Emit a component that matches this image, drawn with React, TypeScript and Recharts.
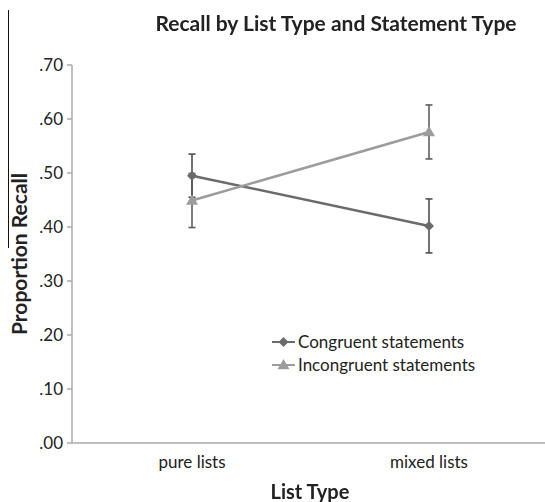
import React from "react";
import { ErrorBar, Line, LineChart, XAxis, YAxis } from "recharts";

const LIST_TYPES = ["pure lists", "mixed lists"];
const CONGRUENT = [0.495, 0.402];
const CONGRUENT_ERR = [0.04, 0.05];
const INCONGRUENT = [0.449, 0.576];
const INCONGRUENT_ERR = [0.05, 0.05];
const Y_TICKS = [0, 0.1, 0.2, 0.3, 0.4, 0.5, 0.6, 0.7];

const data = LIST_TYPES.map((name, i) => ({
  name,
  congruent: CONGRUENT[i],
  congruentErr: CONGRUENT_ERR[i],
  incongruent: INCONGRUENT[i],
  incongruentErr: INCONGRUENT_ERR[i],
}));

const FONT = "Lato, 'Open Sans', sans-serif";
const CONG_COLOR = "#6b6b6b";
const INCONG_COLOR = "#9c9c9c";

const fmt = (v: number) => v.toFixed(2).replace(/^0/, "");

function Diamond(props: any) {
  const { cx, cy, fill } = props;
  if (cx == null || cy == null) return null;
  const r = 5;
  return (
    <polygon
      points={`${cx},${cy - r} ${cx + r},${cy} ${cx},${cy + r} ${cx - r},${cy}`}
      fill={fill}
    />
  );
}

function Triangle(props: any) {
  const { cx, cy, fill } = props;
  if (cx == null || cy == null) return null;
  const r = 6;
  return (
    <polygon
      points={`${cx},${cy - r} ${cx + r},${cy + r * 0.7} ${cx - r},${cy + r * 0.7}`}
      fill={fill}
    />
  );
}

function LegendBox() {
  const rows = [
    { label: "Congruent statements", color: CONG_COLOR, Mark: Diamond },
    { label: "Incongruent statements", color: INCONG_COLOR, Mark: Triangle },
  ];
  return (
    <div style={{ fontFamily: FONT, fontSize: 17, color: "#222" }}>
      {rows.map(({ label, color, Mark }) => (
        <div key={label} style={{ display: "flex", alignItems: "center", height: 23 }}>
          <svg width={26} height={14}>
            <line x1={0} y1={7} x2={23} y2={7} stroke={color} strokeWidth={2} />
            <Mark cx={11.5} cy={7} fill={color} />
          </svg>
          <span>{label}</span>
        </div>
      ))}
    </div>
  );
}

export default function App() {
  return (
    <div
      style={{
        position: "fixed",
        left: 0,
        top: 0,
        width: 545,
        height: 502,
        background: "#fff",
        fontFamily: FONT,
      }}
    >
      <LineChart
        width={545}
        height={502}
        data={data}
        margin={{ top: 65, right: 0, bottom: 0, left: 0 }}
      >
        <XAxis
          dataKey="name"
          height={59}
          padding={{ left: 120, right: 116 }}
          stroke="#aaa"
          strokeWidth={1.5}
          tickLine={false}
          tick={{ fill: "#222", fontSize: 17, fontFamily: FONT }}
          tickMargin={7}
        />
        <YAxis
          width={72}
          domain={[0, 0.7]}
          ticks={Y_TICKS}
          tickFormatter={fmt}
          stroke="#aaa"
          strokeWidth={1.5}
          tickSize={5}
          tick={{ fill: "#222", fontSize: 17, fontFamily: FONT }}
          tickMargin={4}
        />
        <Line
          dataKey="congruent"
          stroke={CONG_COLOR}
          strokeWidth={2.5}
          dot={<Diamond fill={CONG_COLOR} />}
          activeDot={false}
          isAnimationActive={false}
        >
          <ErrorBar dataKey="congruentErr" width={3.5} stroke="#444" strokeWidth={1.5} direction="y" />
        </Line>
        <Line
          dataKey="incongruent"
          stroke={INCONG_COLOR}
          strokeWidth={2.5}
          dot={<Triangle fill={INCONG_COLOR} />}
          activeDot={false}
          isAnimationActive={false}
        >
          <ErrorBar dataKey="incongruentErr" width={3.5} stroke="#555" strokeWidth={1.5} direction="y" />
        </Line>
      </LineChart>

      <div style={{ position: "absolute", left: 272, top: 330 }}>
        <LegendBox />
      </div>
      <div
        style={{
          position: "absolute",
          left: 0,
          width: 672,
          top: 10,
          textAlign: "center",
          fontWeight: 700,
          fontSize: 21,
          color: "#222",
        }}
      >
        Recall by List Type and Statement Type
      </div>
      <div
        style={{
          position: "absolute",
          left: 18,
          top: 254,
          transform: "translate(-50%, -50%) rotate(-90deg)",
          whiteSpace: "nowrap",
          fontWeight: 700,
          fontSize: 21,
          color: "#222",
        }}
      >
        Proportion Recall
      </div>
      <div
        style={{
          position: "absolute",
          left: 0,
          width: 620,
          top: 479,
          textAlign: "center",
          fontWeight: 700,
          fontSize: 20,
          color: "#222",
        }}
      >
        List Type
      </div>
      <div
        style={{
          position: "absolute",
          left: 8,
          top: 10,
          width: 0,
          height: 238,
          borderLeft: "1.5px solid #111",
        }}
      />
    </div>
  );
}
